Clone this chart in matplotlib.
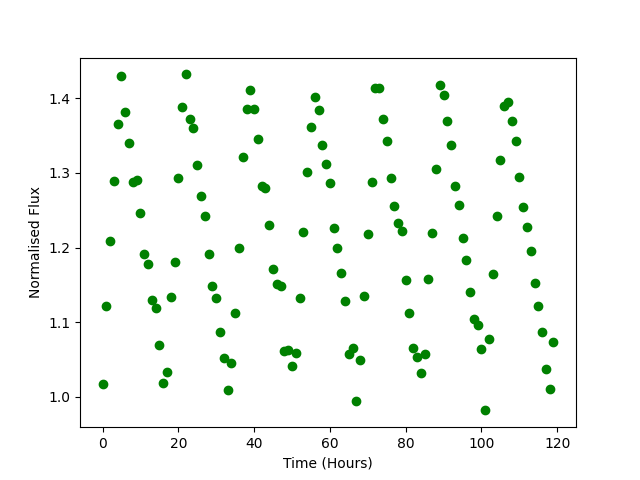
import numpy as np
import matplotlib
matplotlib.use("Agg")
import matplotlib.pyplot as plt

# hourly samples, 0..119
time_hours = np.arange(120)

flux = [
    1.017, 1.122, 1.209, 1.289, 1.365, 1.430, 1.382, 1.340, 1.288, 1.291,
    1.247, 1.191, 1.178, 1.130, 1.119, 1.069, 1.019, 1.034, 1.134, 1.181,
    1.293, 1.389, 1.432, 1.372, 1.360, 1.311, 1.269, 1.242, 1.192, 1.149,
    1.133, 1.087, 1.052, 1.009, 1.045, 1.113, 1.199, 1.321, 1.385, 1.411,
    1.385, 1.345, 1.282, 1.280, 1.230, 1.172, 1.151, 1.149, 1.061, 1.063,
    1.041, 1.059, 1.133, 1.221, 1.301, 1.361, 1.402, 1.384, 1.338, 1.312,
    1.286, 1.226, 1.200, 1.166, 1.128, 1.058, 1.065, 0.995, 1.050, 1.135,
    1.218, 1.288, 1.414, 1.414, 1.372, 1.343, 1.293, 1.256, 1.233, 1.222,
    1.156, 1.112, 1.066, 1.053, 1.032, 1.057, 1.158, 1.220, 1.305, 1.418,
    1.404, 1.369, 1.338, 1.283, 1.257, 1.213, 1.183, 1.141, 1.104, 1.096,
    1.064, 0.982, 1.078, 1.165, 1.242, 1.317, 1.390, 1.395, 1.370, 1.343,
    1.295, 1.255, 1.227, 1.195, 1.152, 1.122, 1.087, 1.038, 1.010, 1.073,
]

fig, ax = plt.subplots(figsize=(6.4, 4.8), dpi=100)
ax.scatter(time_hours, flux, color='green')
ax.set_xlabel('Time (Hours)')
ax.set_ylabel('Normalised Flux')

plt.savefig('out.png')
